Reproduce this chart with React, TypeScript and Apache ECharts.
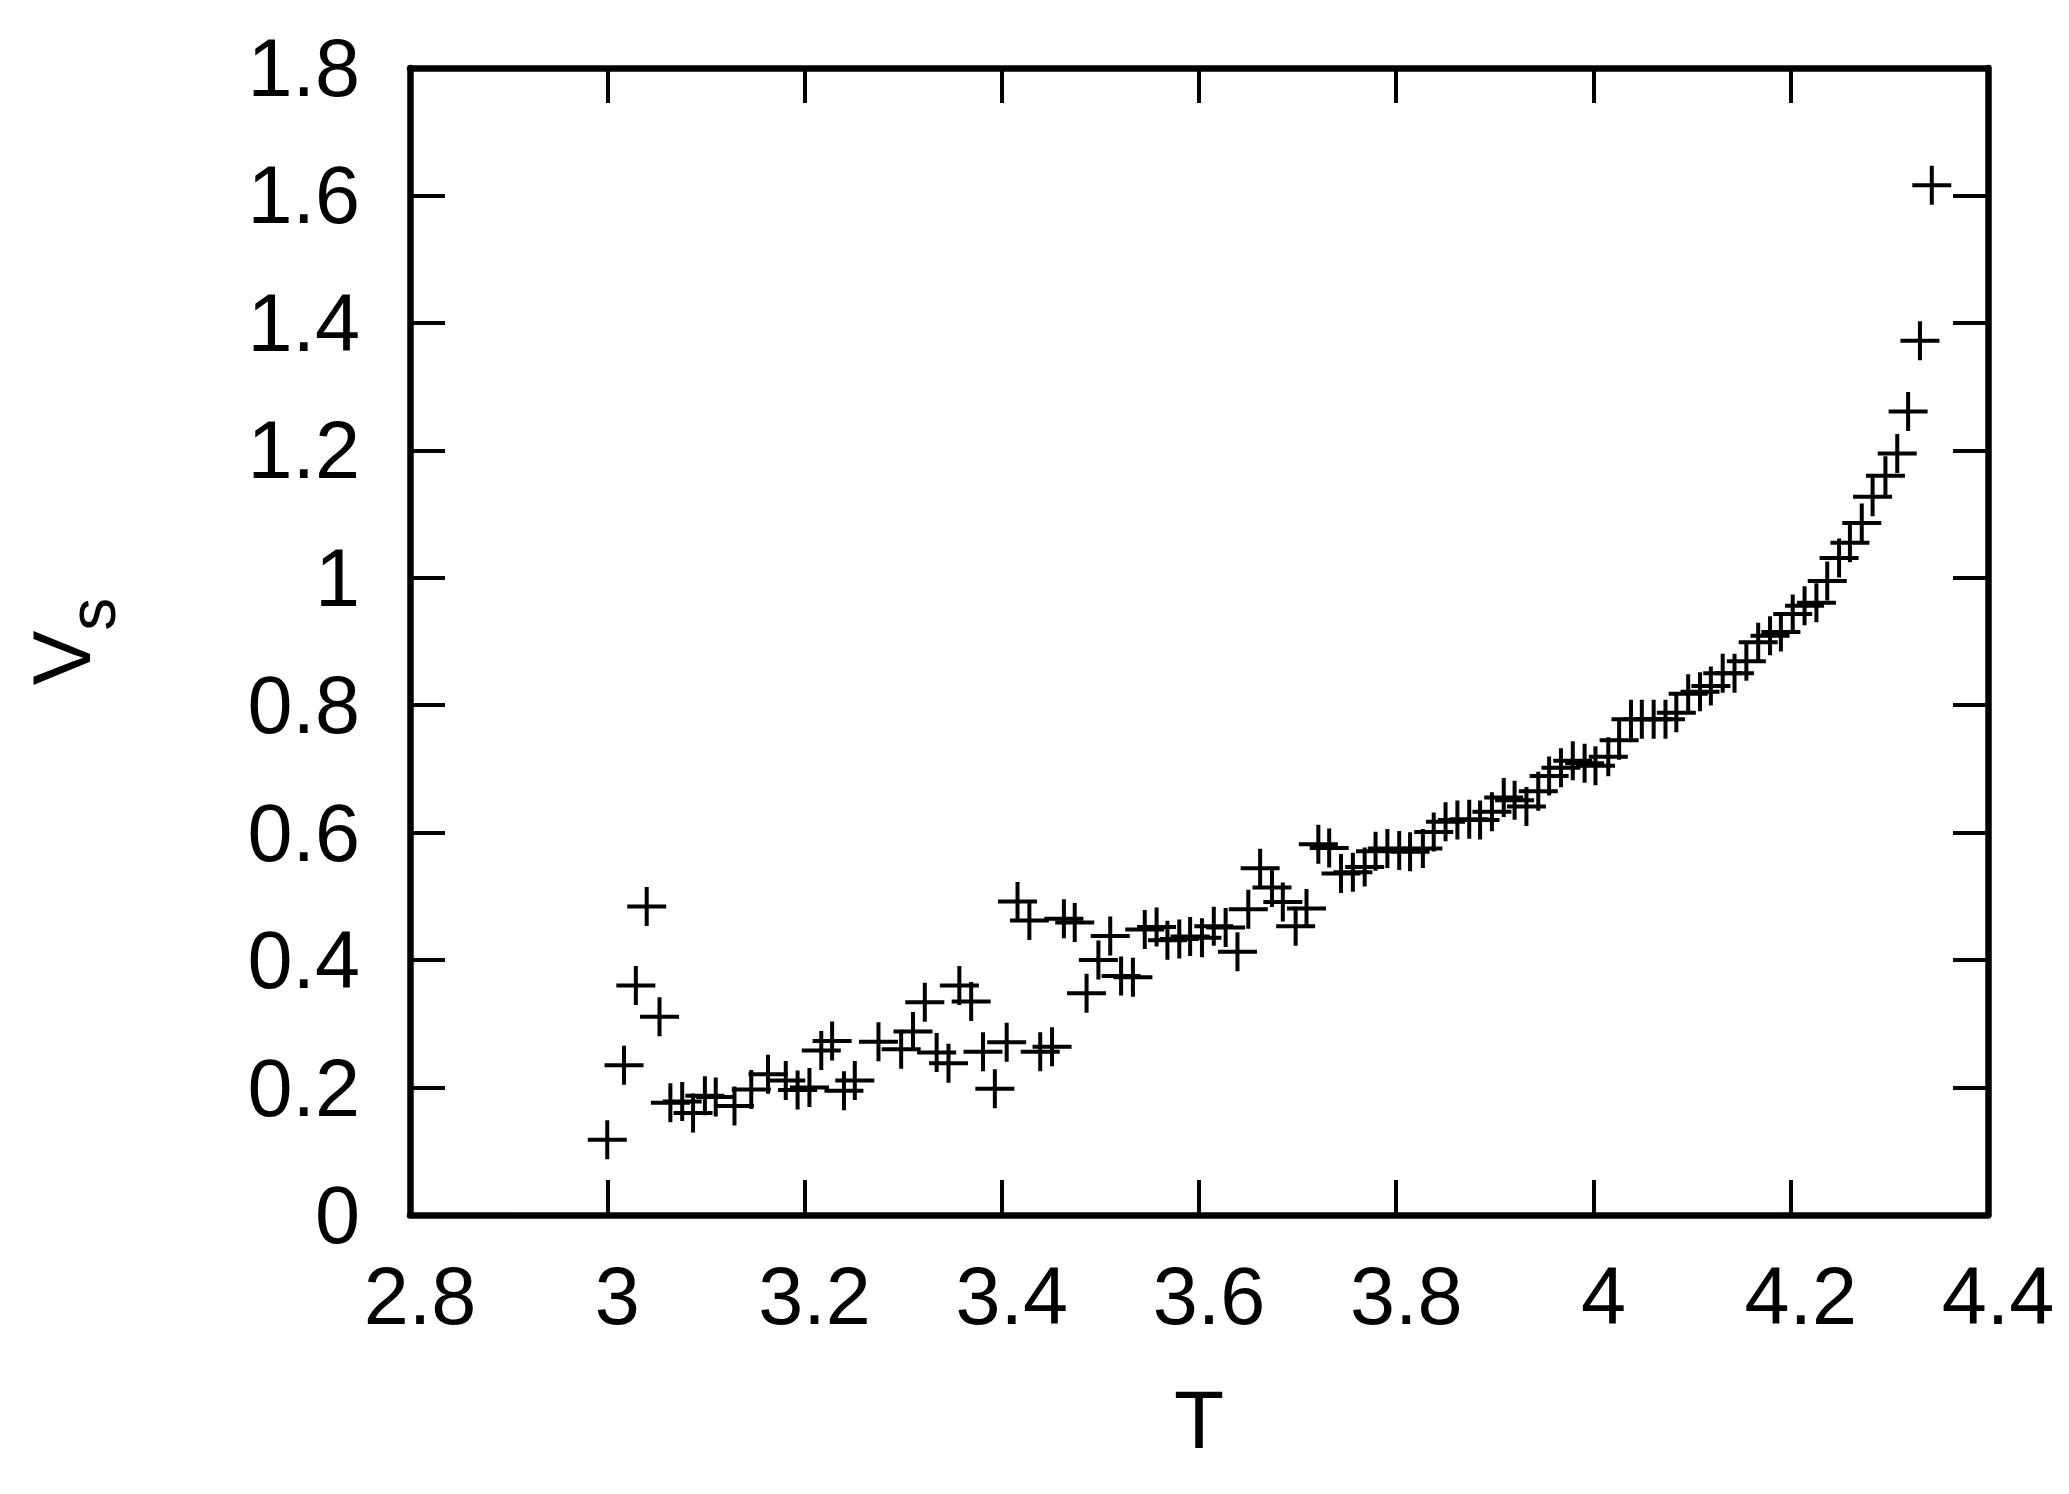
import React, { useEffect, useRef } from 'react';
import * as echarts from 'echarts';

// Temperature T (x) and V_s (y)
const T_VALUES = [
  3.000, 3.017, 3.029, 3.040, 3.053, 3.064, 3.076, 3.087, 3.099, 3.110,
  3.129, 3.146, 3.163, 3.181, 3.193, 3.205, 3.217, 3.228, 3.240, 3.251,
  3.275, 3.298, 3.310, 3.322, 3.334, 3.346, 3.357, 3.369, 3.381, 3.393,
  3.405, 3.416, 3.428, 3.439, 3.451, 3.463, 3.474, 3.486, 3.498, 3.510,
  3.521, 3.533, 3.545, 3.557, 3.568, 3.580, 3.591, 3.603, 3.615, 3.627,
  3.639, 3.650, 3.662, 3.674, 3.685, 3.698, 3.709, 3.721, 3.732, 3.744,
  3.756, 3.768, 3.779, 3.791, 3.803, 3.814, 3.827, 3.838, 3.850, 3.862,
  3.874, 3.885, 3.897, 3.909, 3.920, 3.932, 3.944, 3.955, 3.967, 3.979,
  3.991, 4.002, 4.015, 4.026, 4.038, 4.049, 4.061, 4.073, 4.084, 4.096,
  4.108, 4.119, 4.131, 4.143, 4.155, 4.167, 4.179, 4.190, 4.202, 4.214,
  4.226, 4.237, 4.249, 4.260, 4.272, 4.283, 4.296, 4.308, 4.319, 4.331,
  4.343,
];

const VS_VALUES = [
  0.118, 0.235, 0.360, 0.484, 0.311, 0.176, 0.178, 0.160, 0.187, 0.185,
  0.171, 0.197, 0.221, 0.211, 0.196, 0.200, 0.258, 0.273, 0.195, 0.211,
  0.272, 0.260, 0.288, 0.334, 0.255, 0.238, 0.360, 0.335, 0.256, 0.198,
  0.271, 0.492, 0.462, 0.256, 0.264, 0.465, 0.459, 0.348, 0.400, 0.438,
  0.375, 0.373, 0.448, 0.452, 0.431, 0.433, 0.437, 0.435, 0.453, 0.451,
  0.413, 0.480, 0.544, 0.514, 0.491, 0.453, 0.481, 0.582, 0.576, 0.536,
  0.538, 0.546, 0.571, 0.575, 0.572, 0.570, 0.575, 0.601, 0.617, 0.620,
  0.621, 0.620, 0.633, 0.655, 0.651, 0.641, 0.665, 0.689, 0.702, 0.713,
  0.709, 0.705, 0.719, 0.745, 0.778, 0.778, 0.778, 0.778, 0.788, 0.818,
  0.821, 0.830, 0.850, 0.850, 0.869, 0.899, 0.909, 0.915, 0.943, 0.956,
  0.961, 0.995, 1.031, 1.055, 1.086, 1.127, 1.160, 1.195, 1.261, 1.372,
  1.616,
];

const X_MIN = 2.8;
const X_MAX = 4.4;
const X_STEP = 0.2;
const Y_MIN = 0;
const Y_MAX = 1.8;
const Y_STEP = 0.2;

const X_NAME = 'T';
const Y_NAME_MAIN = 'V';
const Y_NAME_SUB = 's';

const PLUS_SYMBOL = 'path://M17.5,0H21.5V17.5H39V21.5H21.5V39H17.5V21.5H0V17.5H17.5Z';

export default function App() {
  const ref = useRef<HTMLDivElement>(null);

  useEffect(() => {
    document.body.style.margin = '0';
    const chart = echarts.init(ref.current!, null, { renderer: 'svg' });
    const font = "'Liberation Sans', Arial, sans-serif";
    const fmt = (v: number) => String(parseFloat(v.toFixed(1)));
    const lineStyle = { color: '#000', width: 6.5 };
    const tickStyle = { color: '#000', width: 4 };

    const data = T_VALUES.map((t, i) => [t, VS_VALUES[i]]);

    chart.setOption({
      animation: false,
      backgroundColor: '#fff',
      grid: { left: 410, right: 81, top: 68, bottom: 279, containLabel: false },
      xAxis: [
        {
          type: 'value',
          min: X_MIN,
          max: X_MAX,
          interval: X_STEP,
          position: 'bottom',
          name: X_NAME,
          nameLocation: 'middle',
          nameGap: 163,
          nameTextStyle: { fontSize: 82, fontFamily: font, color: '#000' },
          axisLine: { show: true, onZero: false, lineStyle },
          axisTick: { show: true, inside: true, length: 35, lineStyle: tickStyle },
          axisLabel: {
            show: true,
            margin: 40,
            fontSize: 81,
            fontFamily: font,
            color: '#000',
            padding: [0, 0, 0, 20],
            formatter: fmt,
          },
          splitLine: { show: false },
        },
        {
          type: 'value',
          min: X_MIN,
          max: X_MAX,
          interval: X_STEP,
          position: 'top',
          axisLine: { show: true, onZero: false, lineStyle },
          axisTick: { show: true, inside: true, length: 35, lineStyle: tickStyle },
          axisLabel: { show: false },
          splitLine: { show: false },
        },
      ],
      yAxis: [
        {
          type: 'value',
          min: Y_MIN,
          max: Y_MAX,
          interval: Y_STEP,
          position: 'left',
          name: `{v|${Y_NAME_MAIN}}{s|${Y_NAME_SUB}}`,
          nameLocation: 'middle',
          nameRotate: 90,
          nameGap: 285,
          nameTextStyle: {
            rich: {
              v: { fontSize: 82, fontFamily: font, color: '#000', padding: [0, 0, 23, 0], verticalAlign: 'bottom' },
              s: { fontSize: 66, fontFamily: font, color: '#000', verticalAlign: 'bottom' },
            },
          },
          axisLine: { show: true, onZero: false, lineStyle },
          axisTick: { show: true, inside: true, length: 35, lineStyle: tickStyle },
          axisLabel: {
            show: true,
            margin: 50,
            fontSize: 81,
            fontFamily: font,
            color: '#000',
            formatter: fmt,
          },
          splitLine: { show: false },
        },
        {
          type: 'value',
          min: Y_MIN,
          max: Y_MAX,
          interval: Y_STEP,
          position: 'right',
          axisLine: { show: true, onZero: false, lineStyle },
          axisTick: { show: true, inside: true, length: 35, lineStyle: tickStyle },
          axisLabel: { show: false },
          splitLine: { show: false },
        },
      ],
      series: [
        {
          type: 'scatter',
          xAxisIndex: 0,
          yAxisIndex: 0,
          symbol: PLUS_SYMBOL,
          symbolSize: 39,
          itemStyle: { color: '#000', opacity: 1 },
          data,
        },
      ],
    });

    return () => chart.dispose();
  }, []);

  return <div ref={ref} style={{ width: 2069, height: 1494 }} />;
}
